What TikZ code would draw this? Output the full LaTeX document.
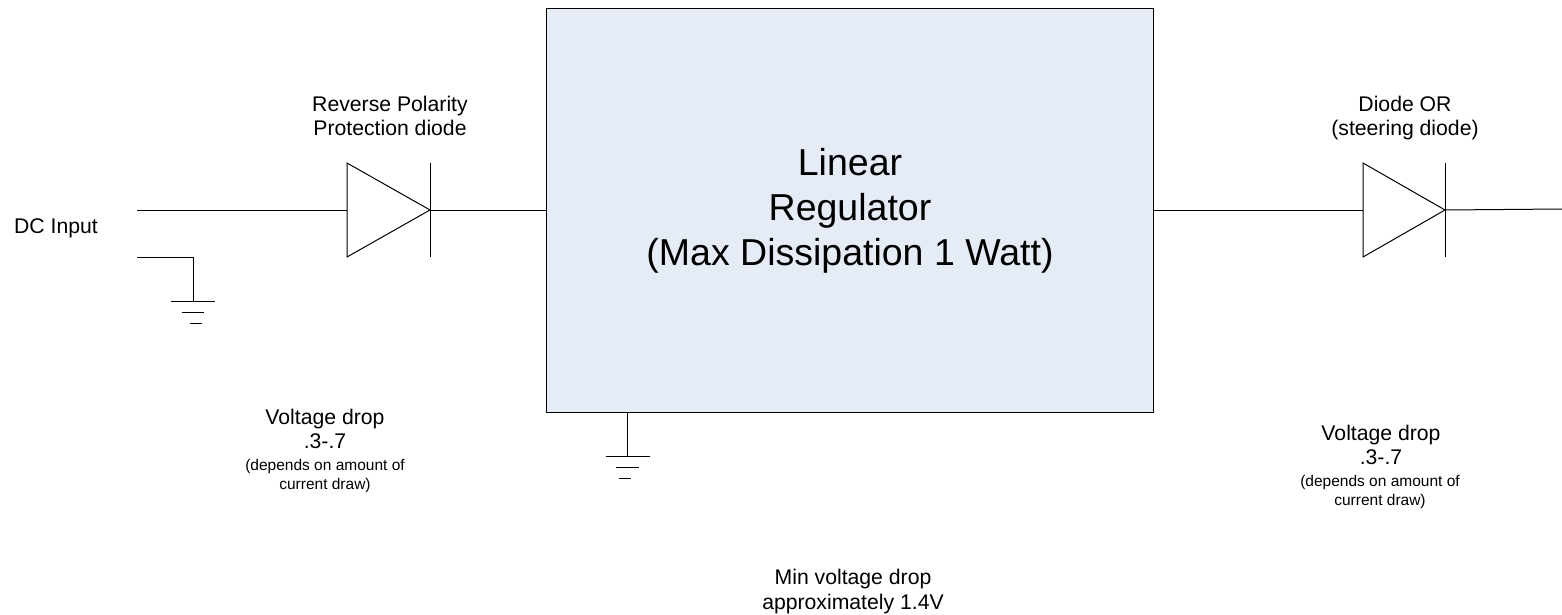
\documentclass[tikz,border=0pt]{standalone}
\usepackage{fontspec}
\setmainfont{Liberation Sans}
\definecolor{regfill}{HTML}{E5ECF6}
\tikzset{
    wire/.style={black, line width=0.5pt},
    label/.style={align=center, font=\fontsize{10.6}{12.3}\selectfont, inner sep=0pt},
    smalllabel/.style={align=center, font=\fontsize{7.75}{9.2}\selectfont, inner sep=0pt},
}
\begin{document}
\begin{tikzpicture}[x=0.5pt, y=-0.5pt]
    \useasboundingbox (0,0) rectangle (1562,615);

    % Draw regulator
    \node[draw, wire, fill=regfill, anchor=north west, minimum width=303.5pt, minimum height=202pt, inner sep=0pt,
        align=center, font=\fontsize{18.75}{22.5}\selectfont] (regulator) at (546,8)
        {Linear\\Regulator\\(Max Dissipation 1 Watt)};

    % Terminals
    \coordinate (dcin) at (137,210);
    \coordinate (dcret) at (137,257);
    \coordinate (retcorner) at (193,257);
    \coordinate (gndin) at (193,301);
    \coordinate (regin) at (546,210);
    \coordinate (regout) at (1153,210);
    \coordinate (regbottom) at (627,412);
    \coordinate (gndreg) at (627,456);
    \coordinate (dcout) at (1562,209);

    % Draw diodes
    \foreach \name/\xa/\xb in {dleft/347/430, dright/1363/1445} {
        \coordinate (\name a) at (\xa,210);
        \coordinate (\name k) at (\xb,210);
        \draw[wire] (\xa,163) -- (\xa,257) -- (\xb,210) -- cycle;
        \draw[wire] (\xb,163) -- (\xb,257);
    }

    % Draw wires
    \draw[wire] (dcin) -- (dlefta);
    \draw[wire] (dleftk) -- (regin);
    \draw[wire] (regout) -- (drighta);
    \draw[wire] (drightk) -- (dcout);
    \draw[wire] (dcret) -- (retcorner) -- (gndin);
    \draw[wire] (regbottom) -- (gndreg);

    % Draw grounds
    \draw[wire] (171,301) -- (215,301);
    \draw[wire] (182,312) -- (204,312);
    \draw[wire] (190,323) -- (202,323);
    \draw[wire] (606,456) -- (650,456);
    \draw[wire] (616,467) -- (639,467);
    \draw[wire] (619,478) -- (631,478);

    % Labels
    \node[label] (dclabel) at (56,228.5) {DC Input};
    \node[label] (leftdiode) at (390,116) {Reverse Polarity\\Protection diode};
    \node[label] (rightdiode) at (1405,118) {Diode OR\\(steering diode)};
    \node[label] (leftdrop) at (325,429) {Voltage drop\\.3-.7};
    \node[smalllabel] (leftnote) at (325,476) {(depends on amount of\\current draw)};
    \node[label] (rightdrop) at (1381,445) {Voltage drop\\.3-.7};
    \node[smalllabel] (rightnote) at (1380,492) {(depends on amount of\\current draw)};
    \node[label] (mindrop) at (853,591.5) {Min voltage drop\\approximately 1.4V};
\end{tikzpicture}
\end{document}
